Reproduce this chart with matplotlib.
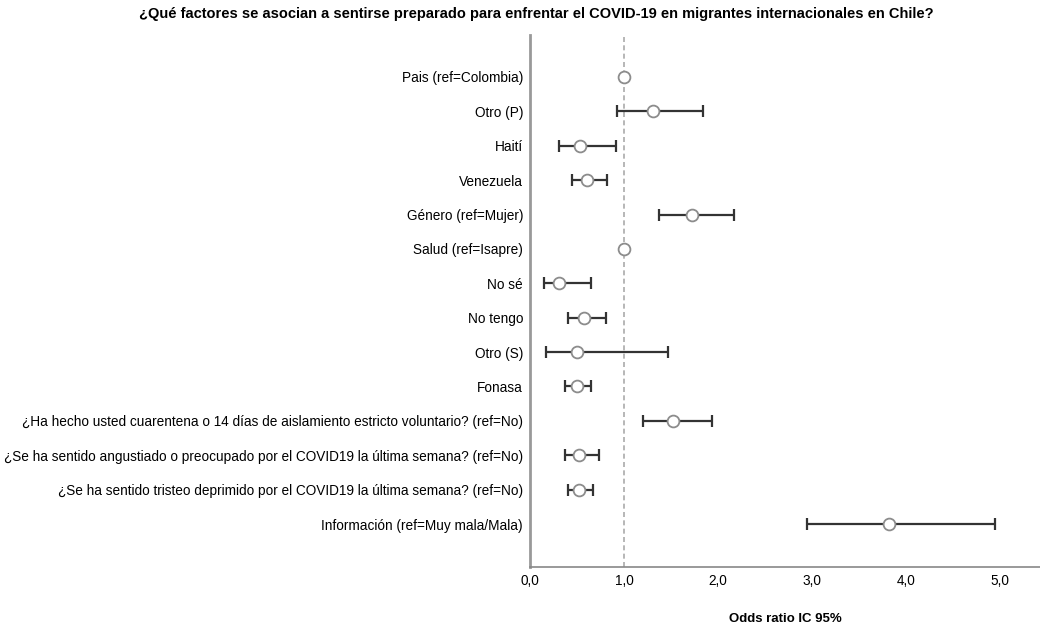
import numpy as np
import matplotlib.pyplot as plt

plt.rcParams["font.family"] = ["Liberation Sans", "DejaVu Sans"]

labels = [
    "Pais (ref=Colombia)",
    "Otro (P)",
    "Haití",
    "Venezuela",
    "Género (ref=Mujer)",
    "Salud (ref=Isapre)",
    "No sé",
    "No tengo",
    "Otro (S)",
    "Fonasa",
    "¿Ha hecho usted cuarentena o 14 días de aislamiento estricto voluntario? (ref=No)",
    "¿Se ha sentido angustiado o preocupado por el COVID19 la última semana? (ref=No)",
    "¿Se ha sentido tristeo deprimido por el COVID19 la última semana? (ref=No)",
    "Información (ref=Muy mala/Mala)",
]
odds = [1.0, 1.31, 0.53, 0.61, 1.72, 1.0, 0.31, 0.57, 0.50, 0.50, 1.52, 0.52, 0.52, 3.82]
ci_low = [np.nan, 0.93, 0.31, 0.45, 1.37, np.nan, 0.15, 0.41, 0.17, 0.37, 1.20, 0.37, 0.41, 2.95]
ci_high = [np.nan, 1.84, 0.92, 0.82, 2.17, np.nan, 0.65, 0.81, 1.47, 0.65, 1.94, 0.74, 0.67, 4.95]
xticks = [0, 1, 2, 3, 4, 5]

fig = plt.figure(figsize=(10.4, 6.23), dpi=100)
ax = fig.add_axes([0.5096, 0.0899, 0.4904, 0.8539])

y = np.arange(len(labels))
odds = np.array(odds)
lo = np.array(ci_low)
hi = np.array(ci_high)

ax.axvline(1.0, color="#aaaaaa", linestyle=(0, (3, 2)), linewidth=1.2, zorder=1)

has_ci = ~np.isnan(lo)
ax.errorbar(odds[has_ci], y[has_ci],
            xerr=[odds[has_ci] - lo[has_ci], hi[has_ci] - odds[has_ci]],
            fmt="none", ecolor="#333333", elinewidth=1.6, capsize=4.5, capthick=1.6, zorder=2)
ax.plot(odds, y, "o", markersize=8.5, markerfacecolor="white",
        markeredgecolor="#8c8c8c", markeredgewidth=1.3, linestyle="none", zorder=3)

ax.set_yticks(y)
ax.set_yticklabels(labels, fontsize=9.8)
ax.set_ylim(len(labels) - 1 + 1.25, -1.22)
ax.set_xlim(0, 5.43)
ax.set_xticks(xticks)
ax.set_xticklabels([f"{t:.1f}".replace(".", ",") for t in xticks], fontsize=9.8)
ax.tick_params(axis="both", length=0)
ax.tick_params(axis="x", pad=5)
ax.tick_params(axis="y", pad=5)

for s in ["top", "right"]:
    ax.spines[s].set_visible(False)
ax.spines["left"].set_color("#999999")
ax.spines["left"].set_linewidth(2)
ax.spines["bottom"].set_color("#888888")
ax.spines["bottom"].set_linewidth(1.2)

ax.set_xlabel("Odds ratio IC 95%", fontsize=9.5, fontweight="bold", labelpad=18)
fig.text(0.516, 0.978, "¿Qué factores se asocian a sentirse preparado para enfrentar el COVID-19 en migrantes internacionales en Chile?",
         ha="center", va="center", fontsize=10.5, fontweight="bold")

fig.savefig("out.png", dpi=100)
